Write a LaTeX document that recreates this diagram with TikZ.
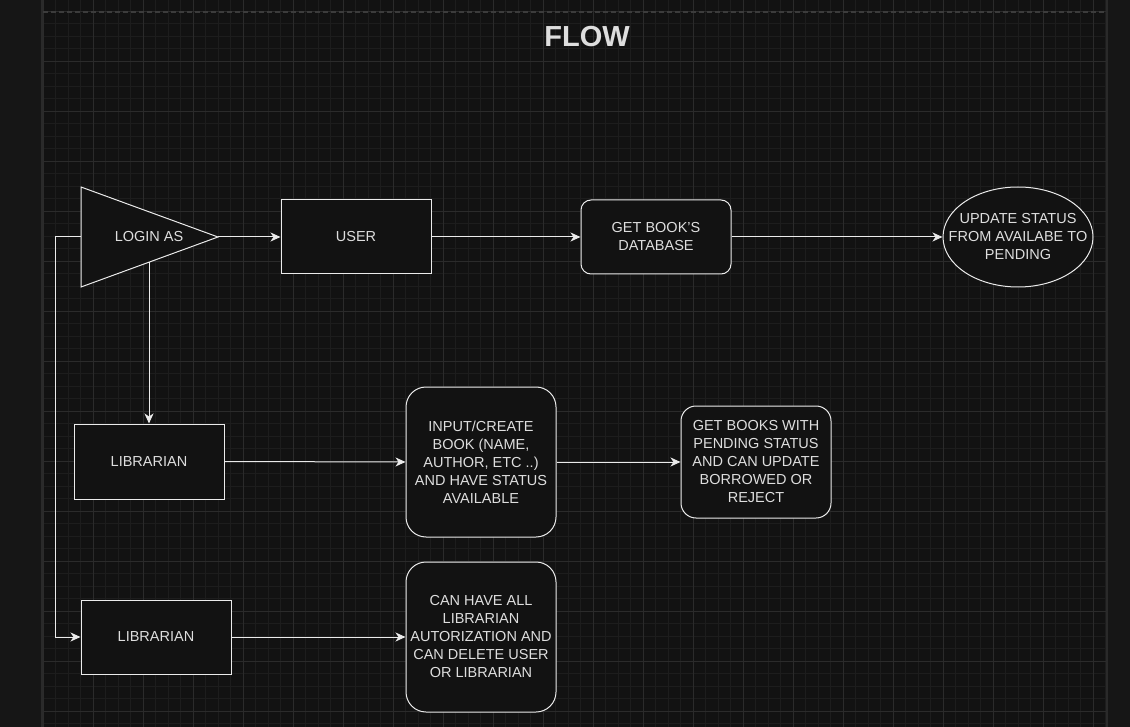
\documentclass[tikz,border=0pt]{standalone}
\usepackage{fontspec}
\setmainfont{Liberation Sans}
\usetikzlibrary{arrows.meta,shapes.geometric}
\definecolor{bgout}{HTML}{161616}
\definecolor{bgin}{HTML}{121212}
\definecolor{gminor}{HTML}{1D1D1D}
\definecolor{gmajor}{HTML}{2B2B2B}
\definecolor{fg}{HTML}{EBEBEB}
\definecolor{txt}{HTML}{DEDEDE}
\definecolor{edgeline}{HTML}{2A2A2A}
\definecolor{dashc}{HTML}{3C3C3C}
\tikzset{
  box/.style={draw=fg, line width=1pt, fill=bgin, text=txt, font=\fontsize{14.5}{18}\selectfont, align=center, inner sep=0pt, minimum width=150pt, minimum height=75pt},
  ar/.style={draw=fg, line width=1pt, -{Stealth[length=10pt,width=9pt,inset=3pt]}},
  lbl/.style={text=txt, font=\fontsize{14.5}{18}\selectfont, align=center, inner sep=0pt}
}
\begin{document}
\begin{tikzpicture}[x=1pt,y=-1pt]
\useasboundingbox (0,0) rectangle (1130,727);
\fill[bgout] (0,0) rectangle (1130,727);
\fill[bgin] (43,0) rectangle (1106,727);
% minor grid
\foreach \i in {0,...,85} \draw[gminor,line width=0.8pt] ({43+12.5*\i},0) -- ++(0,727);
\foreach \j in {0,...,58} \draw[gminor,line width=0.8pt] (43,{-1.5+12.5*\j}) -- (1106,{-1.5+12.5*\j});
% major grid
\foreach \i in {0,...,21} \draw[gmajor,line width=0.9pt] ({43+50*\i},0) -- ++(0,727);
\foreach \j in {0,...,14} \draw[gmajor,line width=0.9pt] (43,{11+50*\j}) -- (1106,{11+50*\j});
% borders
\draw[edgeline,line width=1.5pt] (42,0) -- (42,727);
\draw[edgeline,line width=2pt] (1107,0) -- (1107,727);
\draw[dashc,line width=1.2pt,dash pattern=on 5pt off 3pt] (43,12) -- (1105,12);

% title
\node[text=txt, font=\bfseries\fontsize{29}{32}\selectfont] (title) at (587,37) {FLOW};

% triangle
\coordinate (tipR) at (218,237);
\coordinate (tipL) at (81,237);
\coordinate (tipB) at (149,262.2);
\coordinate (bend) at (55,237);
\draw[fg, fill=bgin, line width=1pt] (81,187) -- (tipR) -- (81,287) -- cycle;
\node[lbl] (login) at (149,237) {LOGIN AS};

% nodes
\node[box, minimum height=74pt] (user) at (356,237) {USER};
\node[box, minimum height=74pt, rounded corners=10pt] (getdb) at (656,237) {GET BOOK'S\\DATABASE};
\node[box, ellipse, minimum width=150pt, minimum height=100pt] (upd) at (1018,237) {};
\node[lbl] (updtext) at (upd.center) {UPDATE STATUS\\FROM AVAILABE TO\\PENDING};
\node[box] (lib1) at (149,461.5) {LIBRARIAN};
\node[box, minimum height=150pt, rounded corners=20pt] (input) at (481,462) {INPUT/CREATE\\BOOK (NAME,\\AUTHOR, ETC ..)\\AND HAVE STATUS\\AVAILABLE};
\node[box, minimum height=112pt, rounded corners=15pt] (getbooks) at (756,462) {GET BOOKS WITH\\PENDING STATUS\\AND CAN UPDATE\\BORROWED OR\\REJECT};
\node[box, minimum height=74pt] (lib2) at (156,637) {LIBRARIAN};
\node[box, minimum height=150pt, rounded corners=20pt] (canhave) at (481,637) {CAN HAVE ALL\\LIBRARIAN\\AUTORIZATION AND\\CAN DELETE USER\\OR LIBRARIAN};

% connectors
\draw[ar] (tipR) -- (user.west);
\draw[ar] (user.east) -- (getdb.west);
\draw[ar] (getdb.east) -- (upd.west);
\draw[ar] (tipB) -- (lib1.north);
\draw[ar] (tipL) -- (bend) |- (lib2.west);
\draw[ar] (lib1.east) -- (input.west);
\draw[ar] (input.east) -- (getbooks.west);
\draw[ar] (lib2.east) -- (canhave.west);
\end{tikzpicture}
\end{document}
